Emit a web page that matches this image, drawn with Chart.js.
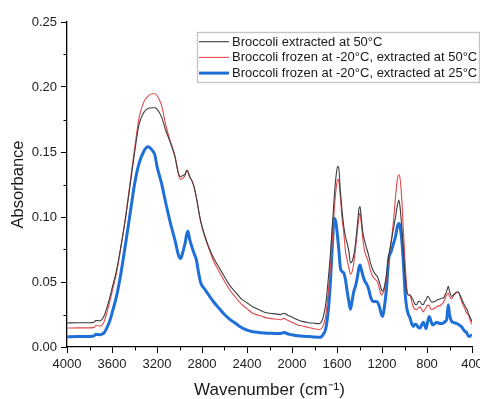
<!DOCTYPE html>
<html>
<head>
<meta charset="utf-8">
<script src="https://cdn.jsdelivr.net/npm/chart.js@4.4.1/dist/chart.umd.min.js"></script>
<style>
html,body{margin:0;padding:0;background:#fff;}
#wrap{width:480px;height:399px;position:relative;}
</style>
</head>
<body>
<div id="wrap"><canvas id="c" width="480" height="399"></canvas></div>
<script>
const wavenumbers = [
4000,3900,3800,3760,3745,3725,3710,3690,3670,3650,
3620,3600,3560,3520,3480,3440,3400,3360,3320,3280,
3240,3220,3200,3160,3120,3080,3040,3010,2990,2970,
2950,2935,2925,2910,2890,2870,2850,2830,2810,2780,
2740,2700,2650,2600,2550,2500,2450,2400,2350,2300,
2250,2200,2150,2100,2070,2040,2000,1950,1900,1850,
1800,1760,1740,1720,1700,1680,1660,1640,1625,1610,
1595,1585,1570,1555,1540,1525,1510,1495,1480,1465,
1450,1435,1420,1405,1395,1385,1370,1355,1340,1320,
1300,1280,1260,1240,1220,1205,1194,1180,1160,1140,
1120,1100,1080,1065,1050,1040,1025,1010,995,980,
965,951,936,922,907,892,877,862,848,833,
820,809,795,780,765,750,730,714,700,684,
670,655,640,625,611,600,581,566,550,536,
522,507,492,477,462,447,433,418,404,400];

const broccoli50 = [
.0185,.0186,.0186,.0190,.0203,.0204,.0200,.0210,.0240,.0290,
.0380,.0450,.0590,.0780,.0990,.1240,.1490,.1710,.1800,.1835,
.1840,.1840,.1830,.1770,.1660,.1570,.1460,.1340,.1310,.1320,
.1330,.1360,.1350,.1310,.1280,.1230,.1150,.1050,.0960,.0870,
.0770,.0690,.0615,.0540,.0470,.0420,.0370,.0340,.0310,.0290,
.0270,.0260,.0255,.0250,.0260,.0245,.0230,.0210,.0195,.0187,
.0183,.0180,.0190,.0240,.0330,.0500,.0700,.0950,.1150,.1300,
.1390,.1380,.1200,.1050,.0930,.0850,.0800,.0740,.0646,.0660,
.0710,.0800,.0930,.1060,.1080,.1000,.0880,.0820,.0770,.0710,
.0640,.0590,.0560,.0540,.0490,.0440,.0430,.0460,.0560,.0700,
.0800,.0900,.1000,.1080,.1130,.1080,.0930,.0750,.0550,.0430,
.0400,.0400,.0380,.0360,.0330,.0325,.0350,.0350,.0330,.0325,
.0350,.0360,.0390,.0377,.0350,.0345,.0350,.0360,.0365,.0370,
.0375,.0377,.0400,.0430,.0466,.0430,.0389,.0400,.0415,.0423,
.0423,.0400,.0370,.0340,.0315,.0295,.0260,.0230,.0205,.0195];

const frozen50 = [
.0146,.0147,.0147,.0151,.0164,.0165,.0160,.0168,.0195,.0250,
.0350,.0420,.0570,.0770,.1000,.1260,.1520,.1760,.1880,.1930,
.1948,.1948,.1935,.1860,.1700,.1580,.1470,.1330,.1290,.1300,
.1320,.1360,.1350,.1310,.1280,.1230,.1150,.1050,.0960,.0860,
.0760,.0665,.0585,.0505,.0435,.0380,.0330,.0295,.0260,.0245,
.0230,.0220,.0215,.0210,.0220,.0205,.0190,.0170,.0160,.0150,
.0140,.0135,.0140,.0170,.0240,.0400,.0600,.0850,.1050,.1200,
.1290,.1280,.1150,.0990,.0880,.0740,.0670,.0610,.0560,.0580,
.0650,.0760,.0880,.1000,.1030,.0960,.0830,.0740,.0700,.0650,
.0580,.0540,.0520,.0500,.0440,.0400,.0410,.0440,.0530,.0690,
.0800,.0950,.1150,.1280,.1325,.1300,.1150,.0900,.0650,.0460,
.0400,.0400,.0350,.0310,.0290,.0287,.0300,.0310,.0290,.0270,
.0290,.0300,.0320,.0320,.0290,.0290,.0300,.0310,.0316,.0316,
.0330,.0340,.0370,.0400,.0415,.0390,.0370,.0390,.0410,.0420,
.0423,.0390,.0350,.0320,.0290,.0260,.0250,.0210,.0180,.0175];

const frozen25 = [
.0079,.0080,.0081,.0086,.0096,.0097,.0094,.0098,.0110,.0140,
.0200,.0260,.0390,.0570,.0790,.1020,.1250,.1410,.1500,.1540,
.1510,.1480,.1390,.1260,.1100,.0950,.0820,.0710,.0680,.0730,
.0800,.0870,.0890,.0830,.0770,.0720,.0670,.0570,.0490,.0450,
.0400,.0350,.0300,.0250,.0210,.0180,.0150,.0130,.0118,.0112,
.0108,.0106,.0104,.0104,.0112,.0102,.0094,.0086,.0082,.0080,
.0076,.0075,.0078,.0100,.0140,.0260,.0480,.0800,.0990,.0960,
.0850,.0760,.0610,.0580,.0570,.0520,.0430,.0350,.0290,.0360,
.0430,.0470,.0530,.0610,.0630,.0600,.0550,.0510,.0490,.0450,
.0380,.0350,.0350,.0345,.0300,.0250,.0235,.0300,.0450,.0680,
.0730,.0790,.0850,.0920,.0950,.0930,.0830,.0650,.0420,.0300,
.0250,.0223,.0180,.0158,.0175,.0170,.0150,.0146,.0170,.0190,
.0165,.0140,.0190,.0235,.0200,.0170,.0180,.0190,.0185,.0180,
.0180,.0185,.0195,.0210,.0325,.0250,.0197,.0190,.0185,.0180,
.0175,.0165,.0155,.0135,.0120,.0110,.0085,.0082,.0090,.0085];

const seriesLabels = [
  'Broccoli extracted at 50°C',
  'Broccoli frozen at -20°C, extracted at 50°C',
  'Broccoli frozen at -20°C, extracted at 25°C'
];
const xTicks = [4000,3600,3200,2800,2400,2000,1600,1200,800,400];
const yTicks = [0.00,0.05,0.10,0.15,0.20,0.25];

const FONT = "'Liberation Sans', Arial, sans-serif";
const toPts = arr => arr.map((v,i)=>({x:wavenumbers[i], y:v}));

const minorTicks = {
  id:'minorTicks',
  afterDraw(chart){
    const ctx = chart.ctx, xs = chart.scales.x, ys = chart.scales.y;
    ctx.save();
    ctx.strokeStyle = '#000'; ctx.lineWidth = 1;
    const yb = ys.bottom;
    for (let i=0;i<xTicks.length-1;i++){
      const v = (xTicks[i]+xTicks[i+1])/2;
      const p = Math.round(xs.getPixelForValue(v))+0.5;
      ctx.beginPath(); ctx.moveTo(p, yb); ctx.lineTo(p, yb+3.5); ctx.stroke();
    }
    const xl = xs.left;
    for (let i=0;i<yTicks.length-1;i++){
      const v = (yTicks[i]+yTicks[i+1])/2;
      const p = Math.round(ys.getPixelForValue(v))+0.5;
      ctx.beginPath(); ctx.moveTo(xl, p); ctx.lineTo(xl-3.5, p); ctx.stroke();
    }
    ctx.restore();
  }
};

const boxLegend = {
  id:'boxLegend',
  afterDraw(chart){
    const ctx = chart.ctx;
    const L = 197.5, T = 32.5, W = 282, H = 50;
    ctx.save();
    ctx.fillStyle = '#fff';
    ctx.fillRect(L, T, W, H);
    ctx.strokeStyle = '#c4c4c4'; ctx.lineWidth = 1.3;
    ctx.strokeRect(L, T, W, H);
    ctx.font = '13px ' + FONT;
    ctx.textBaseline = 'middle';
    chart.data.datasets.forEach((ds, i) => {
      const y = 41.7 + i*15.7;
      ctx.strokeStyle = ds.borderColor; ctx.lineWidth = ds.borderWidth;
      ctx.beginPath(); ctx.moveTo(199, y); ctx.lineTo(229, y); ctx.stroke();
      ctx.fillStyle = '#1a1a1a';
      ctx.fillText(ds.label, 232, y+0.5);
    });
    ctx.restore();
  }
};

new Chart(document.getElementById('c'), {
  type:'line',
  data:{
    datasets:[
      {label:seriesLabels[0], data:toPts(broccoli50), borderColor:'#3d3d3d', borderWidth:1.1},
      {label:seriesLabels[1], data:toPts(frozen50), borderColor:'#e0484c', borderWidth:1.1},
      {label:seriesLabels[2], data:toPts(frozen25), borderColor:'#1f6fd8', borderWidth:3}
    ]
  },
  options:{
    responsive:false,
    devicePixelRatio:1,
    animation:false,
    parsing:true,
    elements:{point:{radius:0}, line:{cubicInterpolationMode:'monotone', fill:false}},
    layout:{padding:{top:22, right:8, left:0, bottom:0}},
    plugins:{legend:{display:false}, tooltip:{enabled:false}},
    scales:{
      x:{
        type:'linear', reverse:true, min:400, max:4000,
        afterBuildTicks(s){ s.ticks = xTicks.map(v=>({value:v})); },
        ticks:{font:{family:FONT,size:13}, color:'#222', padding:4, maxRotation:0, autoSkip:false,
               callback:v=>String(v)},
        grid:{display:true, drawOnChartArea:false, drawTicks:true, tickLength:6, tickColor:'#000', tickWidth:1},
        border:{display:true, color:'#000', width:1.3},
        title:{display:true, text:'Wavenumber (cm⁻¹)', font:{family:FONT,size:17}, color:'#1a1a1a', padding:{top:0,bottom:-2}},
        afterFit(s){ s.height = 52; s.paddingLeft = 0; s.paddingRight = 0; }
      },
      y:{
        type:'linear', min:0, max:0.25,
        afterBuildTicks(s){ s.ticks = yTicks.map(v=>({value:v})); },
        ticks:{font:{family:FONT,size:13}, color:'#222', padding:4, callback:v=>Number(v).toFixed(2)},
        grid:{display:true, drawOnChartArea:false, drawTicks:true, tickLength:6, tickColor:'#000', tickWidth:1},
        border:{display:true, color:'#000', width:1.3},
        title:{display:true, text:'Absorbance', font:{family:FONT,size:16.5}, color:'#1a1a1a', padding:{top:9,bottom:0}},
        afterFit(s){ s.width = 67; s.paddingTop = 0; s.paddingBottom = 0; }
      }
    }
  },
  plugins:[minorTicks, boxLegend]
});
</script>
</body>
</html>
